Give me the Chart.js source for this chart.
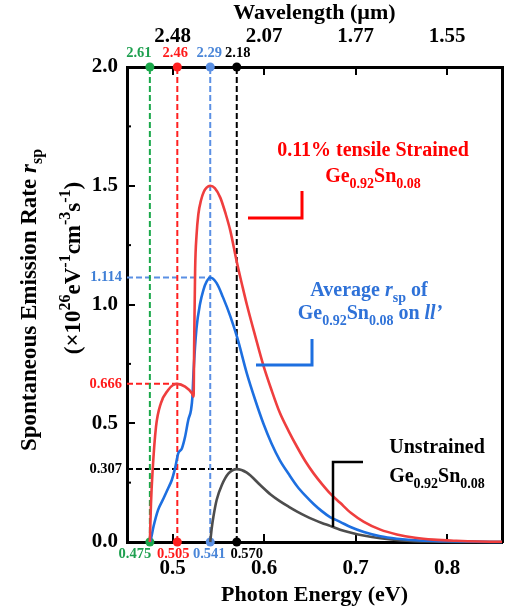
<!DOCTYPE html>
<html>
<head>
<meta charset="utf-8">
<script src="https://cdn.jsdelivr.net/npm/chart.js@4.4.0/dist/chart.umd.min.js"></script>
<style>
html, body { margin: 0; padding: 0; background: #fff; }
</style>
</head>
<body>
<canvas id="rspChart" width="508" height="611"></canvas>
<script>
// photon energy (eV) and r_sp (x1e26 eV^-1 cm^-3 s^-1)
var strainedE = [0.475, 0.4762, 0.478, 0.4817, 0.487, 0.495, 0.500, 0.505, 0.5135, 0.521, 0.5228, 0.5235, 0.5245, 0.526, 0.528, 0.531, 0.534, 0.537, 0.541, 0.546, 0.552, 0.558, 0.563, 0.570, 0.576, 0.581, 0.590, 0.599, 0.608, 0.617, 0.627, 0.636, 0.645, 0.654, 0.663, 0.672, 0.683, 0.695, 0.709, 0.727, 0.745, 0.765, 0.785, 0.810, 0.835, 0.860];
var strainedRate = [0, 0.16, 0.30, 0.485, 0.584, 0.64, 0.66, 0.666, 0.654, 0.626, 0.612, 0.85, 1.15, 1.29, 1.38, 1.44, 1.475, 1.492, 1.50, 1.49, 1.45, 1.38, 1.31, 1.18, 1.08, 1.00, 0.87, 0.745, 0.64, 0.545, 0.465, 0.40, 0.34, 0.289, 0.245, 0.205, 0.165, 0.122, 0.085, 0.052, 0.032, 0.018, 0.010, 0.005, 0.002, 0.001];

var averageE = [0.475, 0.476, 0.479, 0.484, 0.490, 0.495, 0.499, 0.5025, 0.506, 0.510, 0.5135, 0.517, 0.520, 0.5215, 0.5228, 0.526, 0.530, 0.5335, 0.537, 0.541, 0.548, 0.555, 0.563, 0.5707, 0.581, 0.590, 0.599, 0.608, 0.617, 0.627, 0.636, 0.645, 0.654, 0.663, 0.672, 0.683, 0.695, 0.709, 0.727, 0.745, 0.770, 0.800, 0.830, 0.860];
var averageRate = [0, 0.01, 0.065, 0.135, 0.184, 0.226, 0.261, 0.31, 0.373, 0.394, 0.443, 0.514, 0.556, 0.61, 0.72, 0.90, 1.005, 1.061, 1.096, 1.114, 1.09, 1.03, 0.95, 0.858, 0.71, 0.60, 0.50, 0.415, 0.345, 0.285, 0.235, 0.195, 0.16, 0.13, 0.105, 0.085, 0.062, 0.042, 0.024, 0.014, 0.006, 0.003, 0.001, 0];

var unstrainedE = [0.541, 0.5427, 0.5445, 0.548, 0.5537, 0.561, 0.570, 0.581, 0.5956, 0.607, 0.617, 0.627, 0.636, 0.645, 0.654, 0.663, 0.672, 0.683, 0.694, 0.710, 0.727, 0.750, 0.780, 0.820, 0.860];
var unstrainedRate = [0, 0.06, 0.107, 0.177, 0.24, 0.289, 0.307, 0.292, 0.24, 0.20, 0.172, 0.148, 0.128, 0.11, 0.094, 0.08, 0.068, 0.052, 0.04, 0.026, 0.016, 0.007, 0.002, 0.0005, 0];

// band-edge markers (eV) and their wavelengths (um)
var edgeEnergies = [0.475, 0.505, 0.541, 0.570];
var edgeLabels = ['0.475', '0.505', '0.541', '0.570'];
var edgeWavelengths = ['2.61', '2.46', '2.29', '2.18'];

// peak levels: strained, average, unstrained
var peakEnergies = [0.505, 0.541, 0.570];
var peakLevels = [0.666, 1.114, 0.307];
var peakLabels = ['0.666', '1.114', '0.307'];

var energyTicks = [0.5, 0.6, 0.7, 0.8];
var wavelengthTicks = ['2.48', '2.07', '1.77', '1.55'];
var rateTicks = [0.0, 0.5, 1.0, 1.5, 2.0];
var rateMinorTicks = [0.25, 0.75, 1.25, 1.75];

var SERIF = '"Liberation Serif", "Times New Roman", serif';
var edgeColors = ['#1aa84a', '#ff2020', '#5b90e4', '#000000'];
var edgeTextColors = ['#1fa050', '#ff1a1a', '#4a86d8', '#000000'];
var peakColors = ['#ff2020', '#5b90e4', '#000000'];
var peakTextColors = ['#ff1a1a', '#3f7fd6', '#000000'];

function pairs(xs, ys) {
	return xs.map(function (x, i) { return { x: x, y: ys[i] }; });
}

var datasets = [];
datasets.push({ data: pairs(strainedE, strainedRate), borderColor: '#ef3e3e', borderWidth: 2.6, order: 0 });
datasets.push({ data: pairs(averageE, averageRate), borderColor: '#1d6fe0', borderWidth: 2.6, order: 0 });
datasets.push({ data: pairs(unstrainedE, unstrainedRate), borderColor: '#4d4d4d', borderWidth: 2.6, order: 0 });

edgeEnergies.forEach(function (e, i) {
	datasets.push({
		data: [{ x: e, y: 0 }, { x: e, y: 2 }],
		borderColor: edgeColors[i], borderWidth: 2, borderDash: [6, 3],
		pointRadius: 4.5, pointBackgroundColor: edgeColors[i], pointBorderWidth: 0,
		cubicInterpolationMode: 'default', tension: 0, order: 1
	});
});
peakLevels.forEach(function (v, i) {
	datasets.push({
		data: [{ x: 0.45, y: v }, { x: peakEnergies[i], y: v }],
		borderColor: peakColors[i], borderWidth: 2, borderDash: [6, 3],
		pointRadius: 0, cubicInterpolationMode: 'default', tension: 0, order: 1
	});
});

function fontFor(p, size) {
	var s = (p.sub || p.sup) ? Math.round(size * 0.7) : size;
	return (p.it ? 'italic ' : '') + 'bold ' + s + 'px ' + SERIF;
}
function richText(c, parts, x, y, size, color, align) {
	var w = 0;
	parts.forEach(function (p) { c.font = fontFor(p, size); w += c.measureText(p.t).width; });
	var cx = align === 'center' ? x - w / 2 : (align === 'right' ? x - w : x);
	c.fillStyle = color;
	c.textAlign = 'left';
	c.textBaseline = 'alphabetic';
	parts.forEach(function (p) {
		c.font = fontFor(p, size);
		var dy = p.sub ? size * 0.28 : (p.sup ? -size * 0.42 : 0);
		c.fillText(p.t, cx, y + dy);
		cx += c.measureText(p.t).width;
	});
}
var geSn = [{ t: 'Ge' }, { t: '0.92', sub: true }, { t: 'Sn' }, { t: '0.08', sub: true }];

function line(c, pts, color, width) {
	c.strokeStyle = color; c.lineWidth = width; c.setLineDash([]);
	c.beginPath();
	c.moveTo(pts[0][0], pts[0][1]);
	for (var i = 1; i < pts.length; i++) c.lineTo(pts[i][0], pts[i][1]);
	c.stroke();
}

var annotations = {
	id: 'annotations',
	afterDraw: function (chart) {
		var c = chart.ctx, xs = chart.scales.x, ys = chart.scales.y, area = chart.chartArea;
		c.save();
		// minor ticks
		rateMinorTicks.forEach(function (v) {
			var py = ys.getPixelForValue(v);
			line(c, [[area.left, py], [area.left + 4, py]], '#000', 2);
		});
		// marker labels
		var topOffsets = [-11, -2, -1, 1], bottomOffsets = [-15, -4, -1, 10];
		c.textAlign = 'center'; c.textBaseline = 'alphabetic';
		edgeEnergies.forEach(function (e, i) {
			var px = xs.getPixelForValue(e);
			c.fillStyle = edgeTextColors[i];
			c.font = 'bold 14.5px ' + SERIF;
			c.fillText(edgeWavelengths[i], px + topOffsets[i], 57);
			c.fillText(edgeLabels[i], px + bottomOffsets[i], 558);
		});
		peakLevels.forEach(function (v, i) {
			c.textAlign = 'right'; c.textBaseline = 'middle';
			c.fillStyle = peakTextColors[i];
			c.font = 'bold 14.5px ' + SERIF;
			c.fillText(peakLabels[i], 122, ys.getPixelForValue(v));
		});
		// y axis title
		c.save();
		c.translate(36, 300);
		c.rotate(-Math.PI / 2);
		richText(c, [{ t: 'Spontaneous Emission Rate ' }, { t: 'r', it: true }, { t: 'sp', sub: true }], 0, 0, 23, '#000', 'center');
		c.restore();
		c.save();
		c.translate(80, 268);
		c.rotate(-Math.PI / 2);
		richText(c, [{ t: '(\u00d710' }, { t: '26', sup: true }, { t: 'eV' }, { t: '-1', sup: true }, { t: 'cm' }, { t: '-3', sup: true }, { t: 's' }, { t: '-1', sup: true }, { t: ')' }], 0, 0, 23, '#000', 'center');
		c.restore();
		// legend notes
		richText(c, [{ t: '0.11% tensile Strained' }], 373, 156, 20, '#ff0000', 'center');
		richText(c, geSn, 373, 182, 20, '#ff0000', 'center');
		line(c, [[248, 218], [302, 218], [302, 191]], '#ff0000', 3);

		richText(c, [{ t: 'Average ' }, { t: 'r', it: true }, { t: 'sp', sub: true }, { t: ' of' }], 369, 296, 20, '#2f72d8', 'center');
		richText(c, geSn.concat([{ t: ' on ' }, { t: 'll\u2019', it: true }]), 370, 319, 20, '#2f72d8', 'center');
		line(c, [[256, 365], [312, 365], [312, 339]], '#1d6fe0', 3);

		richText(c, [{ t: 'Unstrained' }], 437, 453, 20, '#000', 'center');
		richText(c, geSn, 437, 482, 20, '#000', 'center');
		line(c, [[333, 527], [333, 462], [363, 462]], '#000', 2.5);
		c.restore();
	}
};

var tickFont = { family: SERIF, size: 21, weight: 'bold' };
var titleFont = { family: SERIF, size: 22, weight: 'bold' };

var ctx = document.getElementById('rspChart').getContext('2d');
var rspChart = new Chart(ctx, {
	type: 'line',
	data: { datasets: datasets },
	options: {
		responsive: false,
		animation: false,
		devicePixelRatio: 1,
		layout: { padding: 0 },
		datasets: { line: { cubicInterpolationMode: 'monotone', pointRadius: 0, fill: false, clip: false } },
		plugins: { legend: { display: false }, tooltip: { enabled: false } },
		scales: {
			x: {
				type: 'linear', position: 'bottom', min: 0.45, max: 0.86,
				afterBuildTicks: function (s) { s.ticks = energyTicks.map(function (v) { return { value: v }; }); },
				afterFit: function (s) { s.height = 69; },
				grid: { drawOnChartArea: false, tickLength: -8, color: '#000', lineWidth: 2 },
				border: { color: '#000', width: 3 },
				ticks: { font: tickFont, color: '#000', padding: 22, autoSkip: false, maxRotation: 0,
					callback: function (v) { return v.toFixed(1); } },
				title: { display: true, text: 'Photon Energy (eV)', font: titleFont, color: '#000', padding: { top: 0, bottom: 2 } }
			},
			xTop: {
				type: 'linear', position: 'top', min: 0.45, max: 0.86,
				afterBuildTicks: function (s) { s.ticks = energyTicks.map(function (v) { return { value: v }; }); },
				afterFit: function (s) { s.height = 67; },
				grid: { drawOnChartArea: false, tickLength: -8, color: '#000', lineWidth: 2 },
				border: { color: '#000', width: 3 },
				ticks: { font: tickFont, color: '#000', padding: 26, autoSkip: false, maxRotation: 0,
					callback: function (v) { return wavelengthTicks[energyTicks.indexOf(v)]; } },
				title: { display: true, text: 'Wavelength (\u00b5m)', font: titleFont, color: '#000', padding: { top: 0, bottom: 0 } }
			},
			y: {
				type: 'linear', position: 'left', min: 0, max: 2,
				afterBuildTicks: function (s) { s.ticks = rateTicks.map(function (v) { return { value: v }; }); },
				afterFit: function (s) { s.width = 127; },
				grid: { drawOnChartArea: false, tickLength: -8, color: '#000', lineWidth: 2 },
				border: { color: '#000', width: 3 },
				ticks: { font: tickFont, color: '#000', padding: 17, autoSkip: false,
					callback: function (v) { return v.toFixed(1); } }
			},
			yRight: {
				type: 'linear', position: 'right', min: 0, max: 2,
				afterFit: function (s) { s.width = 6; },
				grid: { drawOnChartArea: false, drawTicks: false },
				border: { color: '#000', width: 3 },
				ticks: { display: false }
			}
		}
	},
	plugins: [annotations]
});
</script>
</body>
</html>
